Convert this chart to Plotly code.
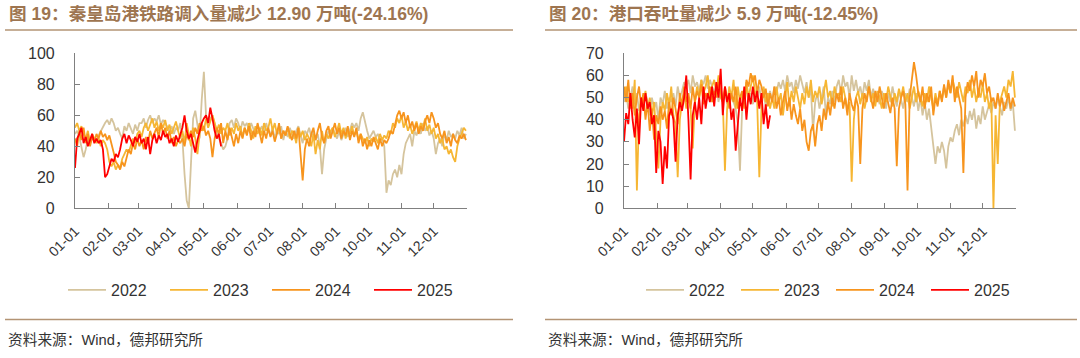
import pandas as pd
import plotly.graph_objects as go

W, H = 1080, 358

years = ["2022", "2023", "2024", "2025"]
line_colors = ["#D5C49D", "#F6B633", "#F7941D", "#FF0000"]
month_labels = ["01-01", "02-01", "03-01", "04-01", "05-01", "06-01",
                "07-01", "08-01", "09-01", "10-01", "11-01", "12-01"]

title_left = "图 19：秦皇岛港铁路调入量减少 12.90 万吨(-24.16%)"
title_right = "图 20：港口吞吐量减少 5.9 万吨(-12.45%)"
source_text = "资料来源：Wind，德邦研究所"

# ---- 秦皇岛港铁路调入量 (values every 2 days from 01-01) ----
qhd_2022 = [
    48, 50, 46, 40, 33, 38, 45, 42, 46, 44,
    44, 47, 50, 52, 55, 57, 54, 58, 55, 50,
    52, 48, 45, 53, 50, 55, 52, 48, 54, 50,
    55, 55, 58, 52, 57, 60, 55, 58, 56, 60,
    54, 57, 55, 52, 50, 53, 48, 52, 50, 55,
    45, 22, 5, 0, 30, 58, 63, 55, 45, 70,
    88, 60, 55, 58, 60, 55, 50, 45, 42, 38,
    40, 45, 55, 57, 52, 58, 55, 50, 56, 53,
    55, 50, 55, 52, 48, 54, 50, 53, 48, 55,
    50, 47, 52, 45, 50, 48, 53, 44, 50, 46,
    52, 48, 45, 50, 53, 47, 42, 50, 48, 52,
    46, 50, 44, 48, 40, 22, 38, 45, 50, 47,
    52, 48, 45, 50, 44, 48, 52, 46, 50, 55,
    52, 55, 50, 58, 62, 55, 50, 45, 48, 50,
    46, 48, 44, 45, 40, 10, 18, 15, 22, 25,
    20, 28, 22, 35, 42, 45, 48, 40, 50, 47,
    52, 48, 55, 50, 53, 47, 50, 45, 35, 42,
    45, 40, 48, 44, 50, 46, 48, 45, 50, 47,
    52, 45, 48,
]
qhd_2023 = [
    52, 55, 50, 53, 48, 45, 50, 42, 48, 45,
    42, 45, 40, 44, 42, 38, 30, 27, 30, 25,
    28, 26, 32, 35, 38, 36, 40, 45, 42, 48,
    50, 46, 52, 55, 50, 54, 58, 52, 56, 50,
    55, 52, 57, 50, 54, 48, 52, 56, 50, 45,
    50, 42, 55, 48, 40, 52, 45, 35, 48, 55,
    50, 58, 52, 56, 60, 55, 50, 54, 48, 52,
    50, 55, 47, 52, 48, 55, 50, 53, 46, 52,
    48, 55, 50, 45, 53, 48, 52, 47, 55, 50,
    52, 58, 50, 55, 48, 53, 45, 50, 47, 52,
    45, 50, 48, 42, 52, 46, 50, 44, 48, 45,
    40, 48, 35, 44, 38, 50, 42, 48, 45, 50,
    52, 46, 50, 55, 48, 52, 45, 50, 48, 53,
    47, 50, 44, 48, 45, 42, 46, 40, 45, 43,
    46, 42, 48, 44, 47, 45, 50, 48, 55, 52,
    58, 55, 60, 52, 56, 50, 54, 48, 52, 56,
    50, 55, 52, 58, 50, 54, 48, 52, 45, 48,
    42, 45, 38, 40, 35, 38, 33, 30, 40, 45,
    48, 52, 50,
]
qhd_2024 = [
    45, 40, 50, 44, 52, 42, 48, 40, 46, 43,
    48, 45, 50, 46, 48, 44, 47, 42, 36, 30,
    28, 25, 30, 27, 33, 38, 35, 42, 38, 45,
    40, 44, 38, 46, 42, 50, 45, 48, 52, 46,
    55, 48, 52, 45, 50, 42, 46, 40, 44, 42,
    45, 40, 48, 44, 50, 46, 52, 48, 55, 50,
    53, 47, 50, 45, 33, 45, 52, 48, 55, 42,
    50, 44, 52, 46, 40, 48, 42, 50, 45, 52,
    47, 53, 44, 50, 46, 55, 48, 42, 50, 45,
    52, 46, 50, 43, 48, 55, 45, 50, 47, 53,
    48, 44, 50, 45, 52, 35, 18, 38, 45, 40,
    48, 52, 44, 50, 55, 46, 42, 50, 53, 45,
    50, 55, 48, 52, 45, 50, 47, 53, 44, 50,
    46, 52, 42, 48, 40, 45, 38, 44, 40, 46,
    42, 38, 45, 40, 44, 42, 45, 50, 48, 55,
    60, 63, 58, 62, 55, 60, 52, 56, 50, 55,
    48, 53, 50, 56, 60, 55, 62, 58, 52, 55,
    48, 45, 50, 42, 46, 40, 48, 44, 42, 47,
    45, 48, 44,
]
qhd_2025 = [
    26, 45, 48, 52, 42, 46, 40, 44, 48, 42,
    45, 42, 44, 38, 20, 22, 28, 32, 30, 35,
    33, 38, 45, 48, 42, 47, 44, 40, 46, 43,
    48, 42, 45, 38, 46, 35, 44, 48, 42, 47,
    44, 50, 46, 48, 42, 45, 40, 47, 43, 48,
    52, 60, 50, 45, 48, 42, 36, 44, 50, 55,
    58, 60, 55, 65, 58, 50, 45, 48, 40,
]

# ---- 港口吞吐量 (values every 2 days from 01-01) ----
port_2022 = [
    48, 52, 45, 50, 55, 47, 52, 44, 50, 46,
    52, 48, 42, 50, 45, 48, 40, 50, 47, 53,
    45, 50, 48, 52, 46, 55, 50, 53, 57, 55,
    58, 52, 60, 55, 57, 53, 58, 56, 60, 54,
    58, 55, 52, 56, 48, 54, 50, 53, 47, 52,
    50, 48, 45, 38, 17, 45, 50, 54, 48, 52,
    47, 53, 50, 55, 48, 52, 46, 50, 53, 48,
    55, 52, 57, 54, 58, 53, 60, 55, 57, 52,
    58, 54, 60, 56, 52, 57, 50, 54, 35, 48,
    52, 45, 50, 55, 42, 50, 47, 53, 48, 55,
    58, 52, 60, 55, 57, 50, 60, 53, 58, 52,
    55, 50, 57, 53, 58, 50, 54, 48, 52, 47,
    53, 50, 45, 52, 48, 55, 50, 46, 53, 49,
    45, 52, 48, 54, 50, 46, 52, 44, 50, 42,
    48, 40, 45, 36, 30, 20, 28, 25, 30, 26,
    18, 28, 32, 30, 35, 38, 33, 40, 37, 42,
    38, 44, 40, 45, 36, 42, 38, 46, 40, 44,
    47, 43, 48, 45, 50, 46, 42, 48, 45, 50,
    44, 48, 35,
]
port_2023 = [
    50, 55, 48, 52, 45, 58, 8, 42, 50, 47,
    53, 45, 50, 42, 48, 35, 18, 40, 48, 44,
    52, 46, 55, 42, 38, 14, 40, 48, 52, 45,
    50, 45, 27, 48, 55, 50, 58, 52, 55, 60,
    50, 55, 58, 52, 60, 50, 48, 17, 45, 55,
    50, 58, 45, 55, 48, 52, 45, 57, 50, 55,
    60, 52, 48, 14, 45, 55, 48, 52, 45, 50,
    45, 55, 48, 52, 42, 50, 57, 46, 53, 48,
    55, 50, 45, 52, 47, 55, 50, 58, 48, 53,
    50, 55, 47, 52, 58, 50, 53, 46, 55, 50,
    52, 48, 55, 50, 45, 48, 12, 40, 50, 53,
    47, 52, 45, 50, 55, 48, 52, 46, 53, 50,
    45, 52, 48, 55, 50, 46, 52, 48, 54, 50,
    55, 48, 52, 45, 50, 55, 48, 53, 50, 46,
    52, 48, 55, 50, 45, 52, 47, 53, 49, 55,
    50, 56, 52, 58, 54, 50, 57, 52, 48, 55,
    52, 58, 50, 55, 48, 53, 50, 56, 48, 52,
    45, 50, 0, 42, 20, 48, 52, 55, 50, 58,
    55, 62, 50,
]
port_2024 = [
    55, 48, 58, 45, 52, 42, 50, 55, 46, 52,
    40, 48, 35, 45, 31, 42, 38, 46, 40, 44,
    36, 48, 42, 50, 45, 38, 52, 46, 55, 48,
    52, 45, 55, 48, 53, 50, 56, 47, 52, 50,
    55, 48, 53, 50, 57, 52, 48, 55, 50, 45,
    52, 48, 55, 45, 50, 53, 47, 58, 55, 61,
    57, 60, 52, 58, 55, 50, 54, 46, 52, 48,
    55, 45, 50, 42, 48, 53, 44, 50, 40, 47,
    42, 38, 45, 35, 40, 30, 26, 35, 38, 28,
    38, 42, 35, 45, 40, 48, 42, 50, 45, 52,
    48, 55, 45, 50, 42, 52, 47, 44, 50, 46,
    20, 45, 52, 48, 55, 50, 45, 53, 48, 55,
    50, 45, 52, 48, 43, 50, 45, 19, 45, 50,
    53, 47, 8, 50, 58, 66, 60, 52, 48, 55,
    45, 52, 48, 55, 42, 50, 46, 53, 48, 56,
    50, 58, 52, 60, 48, 55, 50, 45, 16, 50,
    57, 53, 60, 55, 62, 50, 58, 55, 61, 52,
    55, 48, 50, 45, 52, 46, 50, 44, 48, 52,
    45, 50, 46,
]
port_2025 = [
    30, 43, 38, 52, 40, 32, 45, 29, 50, 44,
    52, 45, 48, 38, 42, 16, 35, 30, 11, 28,
    18, 42, 45, 40, 21, 42, 48, 44, 50, 60,
    40, 13, 42, 48, 40, 50, 38, 55, 45, 52,
    48, 55, 46, 57, 50, 63, 42, 55, 48, 52,
    40, 45, 26, 38, 50, 44, 55, 40, 52, 47,
    55, 48, 53, 45, 52, 38, 47, 36, 42,
]

left_series = [qhd_2022, qhd_2023, qhd_2024, qhd_2025]
right_series = [port_2022, port_2023, port_2024, port_2025]

FONT = "Liberation Sans, Arial, Noto Sans CJK SC, sans-serif"
CJK = "Liberation Sans, Noto Sans CJK SC, sans-serif"
TXT = "#333333"
BROWN = "#9E7550"
RULE = "#B39474"
AXIS = "#808080"


def px_x(p):
    return p / W


def px_y(p):
    return 1 - p / H


def dates_for(vals):
    return pd.date_range("2022-01-01", periods=len(vals), freq="2D")


fig = go.Figure()
for name, col, vals in zip(years, line_colors, left_series):
    fig.add_trace(go.Scatter(x=dates_for(vals), y=vals, mode="lines", name=name,
                             line=dict(color=col, width=1.8), xaxis="x", yaxis="y",
                             legend="legend"))
for name, col, vals in zip(years, line_colors, right_series):
    fig.add_trace(go.Scatter(x=dates_for(vals), y=vals, mode="lines", name=name,
                             line=dict(color=col, width=1.8), xaxis="x2", yaxis="y2",
                             legend="legend2"))

tickvals = list(pd.date_range("2022-01-01", "2023-01-01", freq="MS"))
ticktext = month_labels + [""]

xcommon = dict(type="date", range=["2022-01-01", "2023-01-01"], tickvals=tickvals,
               ticktext=ticktext, tickangle=-45, showgrid=False, zeroline=False,
               showline=True, linecolor=AXIS, linewidth=1.2, ticks="inside", ticklen=5,
               tickcolor=AXIS, tickwidth=1.2, ticklabelstandoff=8, automargin=False,
               tickfont=dict(family=FONT, size=14, color=TXT))
ycommon = dict(showgrid=False, zeroline=False, showline=True, linecolor=AXIS,
               linewidth=1.2, ticks="inside", ticklen=5, tickcolor=AXIS, tickwidth=1.2,
               ticklabelstandoff=16, automargin=False,
               tickfont=dict(family=FONT, size=16, color=TXT))

ydom = [px_y(208.3), px_y(53.3)]
legend_common = dict(orientation="h", xanchor="left", yanchor="middle", itemwidth=38,
                     font=dict(family=FONT, size=16, color=TXT),
                     entrywidthmode="pixels", bgcolor="rgba(0,0,0,0)")
fig.update_layout(
    width=W, height=H, margin=dict(l=0, r=0, t=0, b=0, autoexpand=False),
    paper_bgcolor="white", plot_bgcolor="white",
    xaxis=dict(domain=[px_x(75), px_x(467)], anchor="y", **xcommon),
    yaxis=dict(domain=ydom, anchor="x", range=[0, 100], dtick=20, **ycommon),
    xaxis2=dict(domain=[px_x(624), px_x(1016)], anchor="y2", **xcommon),
    yaxis2=dict(domain=ydom, anchor="x2", range=[0, 70], dtick=10, **ycommon),
    legend=dict(x=px_x(63), y=px_y(290), entrywidth=49, **legend_common),
    legend2=dict(x=px_x(641), y=px_y(290), entrywidth=42, **legend_common),
    showlegend=True,
)

annotations = [
    dict(text=f"<b>{title_left}</b>", x=px_x(7), y=px_y(14)),
    dict(text=f"<b>{title_right}</b>", x=px_x(547), y=px_y(14)),
]
for a in annotations:
    fig.add_annotation(xref="paper", yref="paper", xanchor="left", yanchor="middle",
                       showarrow=False, font=dict(family=CJK, size=17.6, color=BROWN), **a)
for xs in (6, 546):
    fig.add_annotation(text=source_text, xref="paper", yref="paper", x=px_x(xs),
                       y=px_y(339.5), xanchor="left", yanchor="middle", showarrow=False,
                       font=dict(family=CJK, size=14.7, color=TXT))

for (x0, x1) in ((5, 513), (545, 1077)):
    for yy in (30, 319.5):
        fig.add_shape(type="line", xref="paper", yref="paper", x0=px_x(x0), x1=px_x(x1),
                      y0=px_y(yy), y1=px_y(yy), line=dict(color=RULE, width=1.5))

fig.write_html("out.html", config={"displayModeBar": False},
               post_script="document.body.style.margin='0';")
